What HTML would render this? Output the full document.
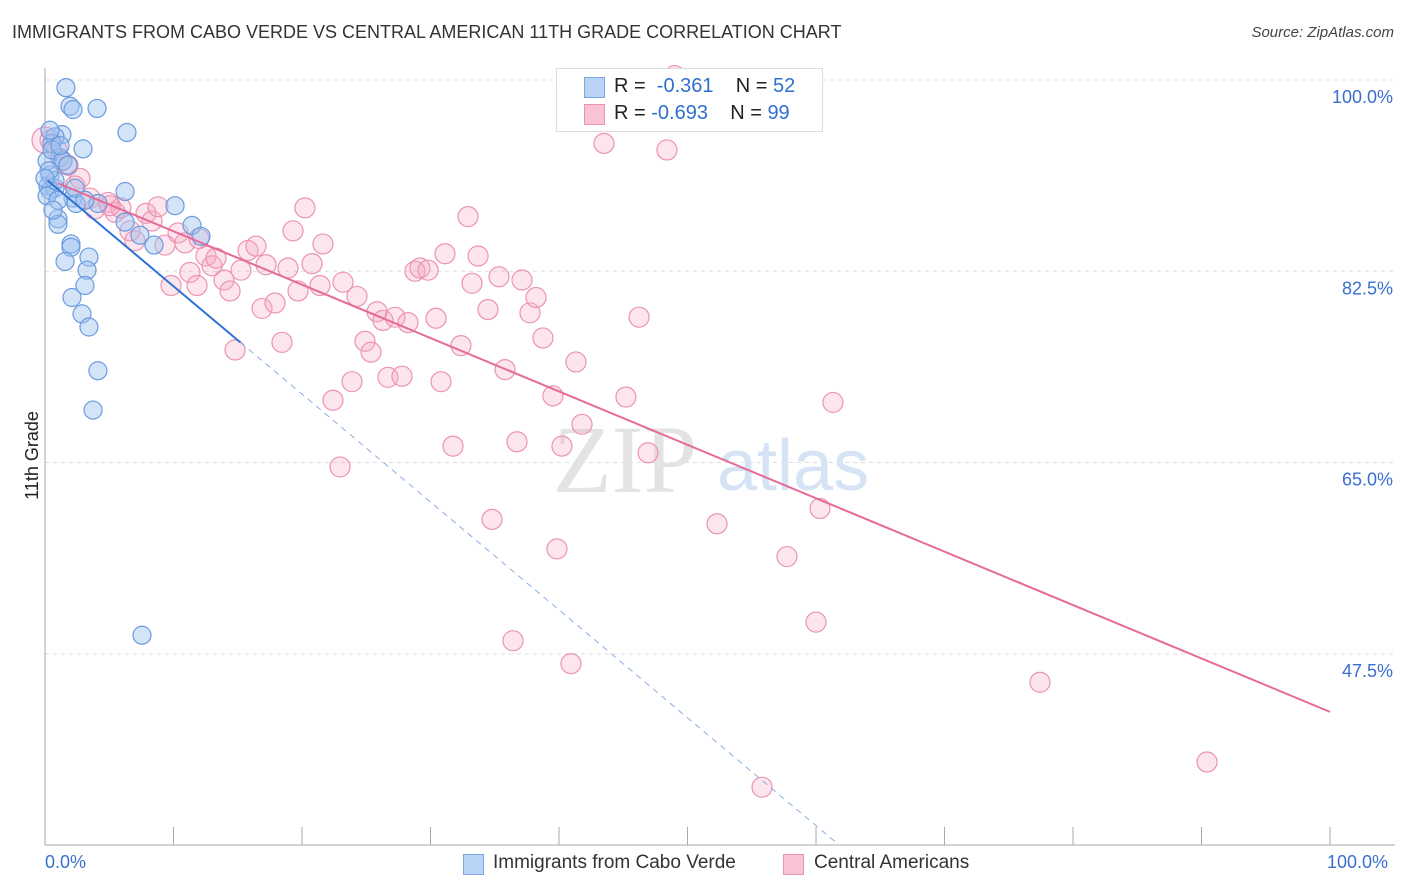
<!DOCTYPE html>
<html><head><meta charset="utf-8"><style>
body{margin:0;background:#fff;font-family:"Liberation Sans",sans-serif;}
#wrap{position:relative;width:1406px;height:892px;overflow:hidden;}
.t{position:absolute;white-space:nowrap;}
</style></head><body>
<div id="wrap">
<div class="t" style="left:12px;top:22px;font-size:18px;color:#333;">IMMIGRANTS FROM CABO VERDE VS CENTRAL AMERICAN 11TH GRADE CORRELATION CHART</div>
<div class="t" style="right:12px;top:24px;font-size:15px;color:#444;font-style:italic;">Source: ZipAtlas.com</div>
<div class="t" style="left:-12px;top:445px;font-size:18px;color:#222;transform:rotate(-90deg);">11th Grade</div>
<svg id="svg" width="1406" height="892" style="position:absolute;left:0;top:0;"></svg>
</div>
<script>
const blueX=[1.63,1.95,2.18,4.05,6.38,1.32,0.78,0.54,1.17,0.39,0.23,0.78,6.23,2.18,2.41,4.12,10.12,1.01,1.01,11.44,12.14,6.23,7.39,2.02,2.02,8.48,3.42,1.56,3.27,3.11,2.1,2.88,3.42,4.12,3.74,7.55,0.39,0.16,0.54,1.4,1.79,0.16,1.01,2.33,0.78,0.31,1.17,0.39,2.96,3.11,0,0.62];
const blueY=[99.3,97.6,97.3,97.4,95.2,95.0,94.8,94.2,92.9,91.3,90.3,90.1,89.8,89.2,88.7,88.7,88.5,87.3,86.8,86.7,85.7,87.0,85.8,85.0,84.7,84.9,83.8,83.4,82.6,81.2,80.1,78.6,77.4,73.4,69.8,49.2,89.9,92.6,93.6,92.6,92.2,89.4,89.0,90.1,90.8,91.7,94.0,95.4,93.7,89.0,91.0,88.1];
const pinkX=[43.5,48.4,49.0,0,0.39,0.93,1.32,1.79,2.72,2.33,3.5,3.89,4.9,5.45,5.91,6.61,7.0,7.86,8.33,8.79,9.34,10.35,10.89,9.81,11.28,11.83,12.53,13.0,13.31,13.93,14.4,15.25,15.8,16.42,17.2,16.89,17.9,18.44,18.91,19.3,19.69,20.23,20.78,21.4,21.63,22.41,22.96,23.19,23.89,24.28,24.9,25.37,25.84,26.3,26.69,27.24,27.78,28.25,28.79,29.18,29.81,30.43,30.82,31.13,31.75,32.37,32.92,33.23,33.7,34.47,34.79,35.33,35.8,36.42,36.73,37.12,37.74,38.21,38.75,39.53,39.84,40.23,40.93,41.32,41.79,45.21,46.23,46.93,52.3,57.74,60.0,60.31,61.32,77.43,90.43,55.8,14.79,11.98,5.06];
const pinkY=[94.2,93.6,100.4,94.5,94.5,93.6,92.6,92.2,91.0,90.3,89.2,88.2,88.8,87.9,88.3,86.2,85.3,87.8,87.1,88.4,84.9,86.0,85.1,81.2,82.4,81.2,83.9,83.0,83.7,81.7,80.7,82.6,84.4,84.8,83.1,79.1,79.6,76.0,82.8,86.2,80.7,88.3,83.2,81.2,85.0,70.7,64.6,81.5,72.4,80.2,76.1,75.1,78.8,78.0,72.8,78.3,72.9,77.8,82.5,82.8,82.6,78.2,72.4,84.1,66.5,75.7,87.5,81.4,83.9,79.0,59.8,82.0,73.5,48.7,66.9,81.7,78.7,80.1,76.4,71.1,57.1,66.5,46.6,74.2,68.5,71.0,78.3,65.9,59.4,56.4,50.4,60.8,70.5,44.9,37.6,35.3,75.3,85.5,88.5];
const blueTrend=[91.0,-0.987]; const blueSolidEnd=15.2;
const pinkTrend=[91.05,-0.4886];
const yTicks=[100,82.5,65,47.5];
const yTickLabels=["100.0%","82.5%","65.0%","47.5%"];
const xTicks=[0,10,20,30,40,50,60,70,80,90,100];

const NS="http://www.w3.org/2000/svg",svg=document.getElementById('svg');
const X=v=>45+v*12.85, Y=v=>80+(100-v)*10.93;
function mk(tag,at,parent){const e=document.createElementNS(NS,tag);for(const k in at)e.setAttribute(k,at[k]);(parent||svg).appendChild(e);return e;}
yTicks.forEach((t,i)=>{
 const g=mk('line',{x1:45,x2:1395,y1:Y(t),y2:Y(t),stroke:'#ddd','stroke-dasharray':'4,4'});
 
 
 const tx=mk('text',{x:1393,y:Y(t)+23,'text-anchor':'end','font-size':18,fill:'#3a6fd0','font-family':'Liberation Sans'});
 tx.textContent=yTickLabels[i];
 
 
});
const ax=mk('line',{x1:45,x2:45,y1:68,y2:845,stroke:'#aaa'});


const bx=mk('line',{x1:45,x2:1395,y1:845,y2:845,stroke:'#aaa'});


xTicks.forEach(t=>{
 const l=mk('line',{x1:X(t),x2:X(t),y1:827,y2:845,stroke:'#aaa'});
 
 
});
const wm=mk('text',{x:553,y:492,'font-size':96,fill:'#e3e3e3','font-family':'Liberation Serif'});wm.textContent='ZIP';


const wm2=mk('text',{x:717,y:490,'font-size':72,fill:'#d5e3f5','font-family':'Liberation Sans'});wm2.textContent='atlas';


pinkX.forEach((x,i)=>{
 const c=mk('circle',{cx:X(x),cy:Y(pinkY[i]),r:i===3?13:10,fill:'rgba(245,170,195,0.3)',stroke:'#eb93b3','stroke-width':1.2});
 
 
});
blueX.forEach((x,i)=>{
 const c=mk('circle',{cx:X(x),cy:Y(blueY[i]),r:9,fill:'rgba(160,196,240,0.45)',stroke:'#6a9be0','stroke-width':1.2});
 
 
});
const bf=v=>blueTrend[0]+blueTrend[1]*v, pf=v=>pinkTrend[0]+pinkTrend[1]*v;
const xEnd=(30-blueTrend[0])/blueTrend[1];
const bd=mk('line',{x1:X(blueSolidEnd),y1:Y(bf(blueSolidEnd)),x2:X(xEnd),y2:Y(30),stroke:'#8aaee0','stroke-width':1,'stroke-dasharray':'6,5'});


const bl=mk('line',{x1:X(0.2),y1:Y(bf(0.2)),x2:X(blueSolidEnd),y2:Y(bf(blueSolidEnd)),stroke:'#2f72d6','stroke-width':2});


const pl=mk('line',{x1:X(1),y1:Y(pf(1)),x2:X(100),y2:Y(pf(100)),stroke:'#e56a98','stroke-width':2});


</script>
<div style="position:absolute;left:556px;top:68px;width:265px;height:62px;background:#fff;border:1px solid #ddd;font-size:20px;">
 <div style="position:absolute;left:27px;top:8px;width:19px;height:19px;background:#b9d3f5;border:1px solid #7aa6e3;"></div>
 <div class="t" style="left:57px;top:6px;color:#222;">R = &nbsp;<span style="color:#2f6fd0">-0.361</span>&nbsp;&nbsp;&nbsp; N = <span style="color:#2f6fd0">52</span></div>
 <div style="position:absolute;left:27px;top:35px;width:19px;height:19px;background:#f8c3d4;border:1px solid #eb93b3;"></div>
 <div class="t" style="left:57px;top:33px;color:#222;">R = <span style="color:#2f6fd0">-0.693</span>&nbsp;&nbsp;&nbsp; N = <span style="color:#2f6fd0">99</span></div>
</div>
<div class="t" style="left:45px;top:852px;font-size:18px;color:#3a6fd0;">0.0%</div>
<div class="t" style="left:1327px;top:852px;font-size:18px;color:#3a6fd0;">100.0%</div>
<div style="position:absolute;left:463px;top:854px;width:19px;height:19px;background:#b9d3f5;border:1px solid #7aa6e3;"></div>
<div class="t" style="left:493px;top:852px;font-size:19px;color:#333;">Immigrants from Cabo Verde</div>
<div style="position:absolute;left:783px;top:854px;width:19px;height:19px;background:#f8c3d4;border:1px solid #eb93b3;"></div>
<div class="t" style="left:814px;top:852px;font-size:19px;color:#333;">Central Americans</div>
</body></html>
